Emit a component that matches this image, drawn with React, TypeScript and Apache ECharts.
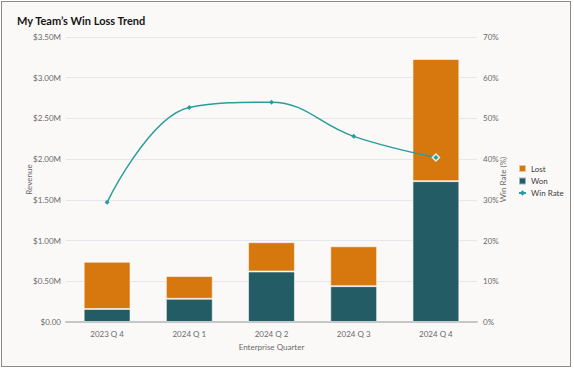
import React, { useEffect, useRef } from "react";
import * as echarts from "echarts";

const categories = ["2023 Q 4", "2024 Q 1", "2024 Q 2", "2024 Q 3", "2024 Q 4"];
const wonValues = [0.16, 0.285, 0.62, 0.44, 1.73];
const lostValues = [0.58, 0.28, 0.36, 0.49, 1.5];
const winRateValues = [29.4, 52.7, 54.0, 45.6, 40.4];

const ORANGE = "#d6780d";
const TEAL = "#235c64";
const LINE = "#2a9e9a";
const FONT = "Lato, 'Open Sans', sans-serif";

export default function App() {
  const ref = useRef<HTMLDivElement>(null);
  useEffect(() => {
    if (!ref.current) return;
    const chart = echarts.init(ref.current, undefined, { renderer: "svg" });
    chart.setOption({
      animation: false,
      backgroundColor: "#faf9f8",
      textStyle: { fontFamily: FONT },
      title: {
        text: "My Team\u2019s Win Loss Trend",
        left: 10,
        top: 8,
        textStyle: { fontSize: 11, fontWeight: "bold", color: "#161513", fontFamily: FONT },
      },
      legend: {
        orient: "vertical",
        left: 511,
        top: 157,
        itemWidth: 7,
        itemHeight: 7,
        itemGap: 3.5,
        textStyle: { fontSize: 8, color: "#3c3c3c", fontFamily: FONT },
        data: [
          { name: "Lost", icon: "rect" },
          { name: "Won", icon: "rect" },
          { name: "Win Rate" },
        ],
      },
      grid: { left: 64, right: 93, top: 35, bottom: 44 },
      xAxis: {
        type: "category",
        data: categories,
        name: "Enterprise Quarter",
        nameLocation: "middle",
        nameGap: 14,
        nameTextStyle: { fontSize: 8, color: "#6a6a6a" },
        axisLine: { lineStyle: { color: "#c6c6c6", width: 2 } },
        axisTick: { show: false },
        axisLabel: { fontSize: 8, color: "#6a6a6a", margin: 8 },
      },
      yAxis: [
        {
          type: "value",
          min: 0,
          max: 3.5,
          interval: 0.5,
          name: "Revenue",
          nameLocation: "middle",
          nameGap: 33,
          nameMoveOverlap: false,
          nameTextStyle: { fontSize: 8, color: "#6a6a6a" },
          axisLabel: {
            fontSize: 8,
            color: "#6a6a6a",
            margin: 5,
            formatter: (v: number) => (v === 0 ? "$0.00" : "$" + v.toFixed(2) + "M"),
          },
          splitLine: { lineStyle: { color: "#e6e6ea", width: 1 } },
          axisLine: { show: false },
          axisTick: { show: false },
        },
        {
          type: "value",
          min: 0,
          max: 70,
          interval: 10,
          name: "Win Rate (%)",
          nameLocation: "middle",
          nameGap: 22,
          nameMoveOverlap: false,
          nameTextStyle: { fontSize: 8, color: "#6a6a6a" },
          axisLabel: { fontSize: 8, color: "#6a6a6a", margin: 6, formatter: "{value}%" },
          splitLine: { show: false },
          axisLine: { show: false },
          axisTick: { show: false },
        },
      ],
      series: [
        {
          name: "Won",
          type: "bar",
          stack: "rev",
          data: wonValues,
          barWidth: "57%",
          itemStyle: { color: TEAL, borderColor: "rgba(255,255,255,0.55)", borderWidth: 1 },
        },
        {
          name: "Lost",
          type: "bar",
          stack: "rev",
          data: lostValues,
          itemStyle: { color: ORANGE, borderColor: "rgba(255,255,255,0.55)", borderWidth: 1 },
        },
        {
          name: "Win Rate",
          type: "line",
          yAxisIndex: 1,
          smooth: 0.4,
          data: winRateValues.map((v, i) =>
            i === winRateValues.length - 1
              ? { value: v, symbolSize: 7, itemStyle: { color: LINE, borderColor: "#e0f0ef", borderWidth: 1.5 } }
              : v
          ),
          symbol: "diamond",
          symbolSize: 5,
          lineStyle: { color: LINE, width: 1.5 },
          itemStyle: { color: LINE },
        },
      ],
    });
    return () => chart.dispose();
  }, []);
  return (
    <div
      style={{
        position: "fixed",
        left: 0,
        top: 0,
        width: 574,
        height: 370,
        background: "#ffffff",
      }}
    >
      <div
        ref={ref}
        style={{
          position: "absolute",
          left: 1,
          top: 1,
          width: 570,
          height: 366,
          boxSizing: "border-box",
          border: "1px solid #8a8a8a",
        }}
      />
    </div>
  );
}
